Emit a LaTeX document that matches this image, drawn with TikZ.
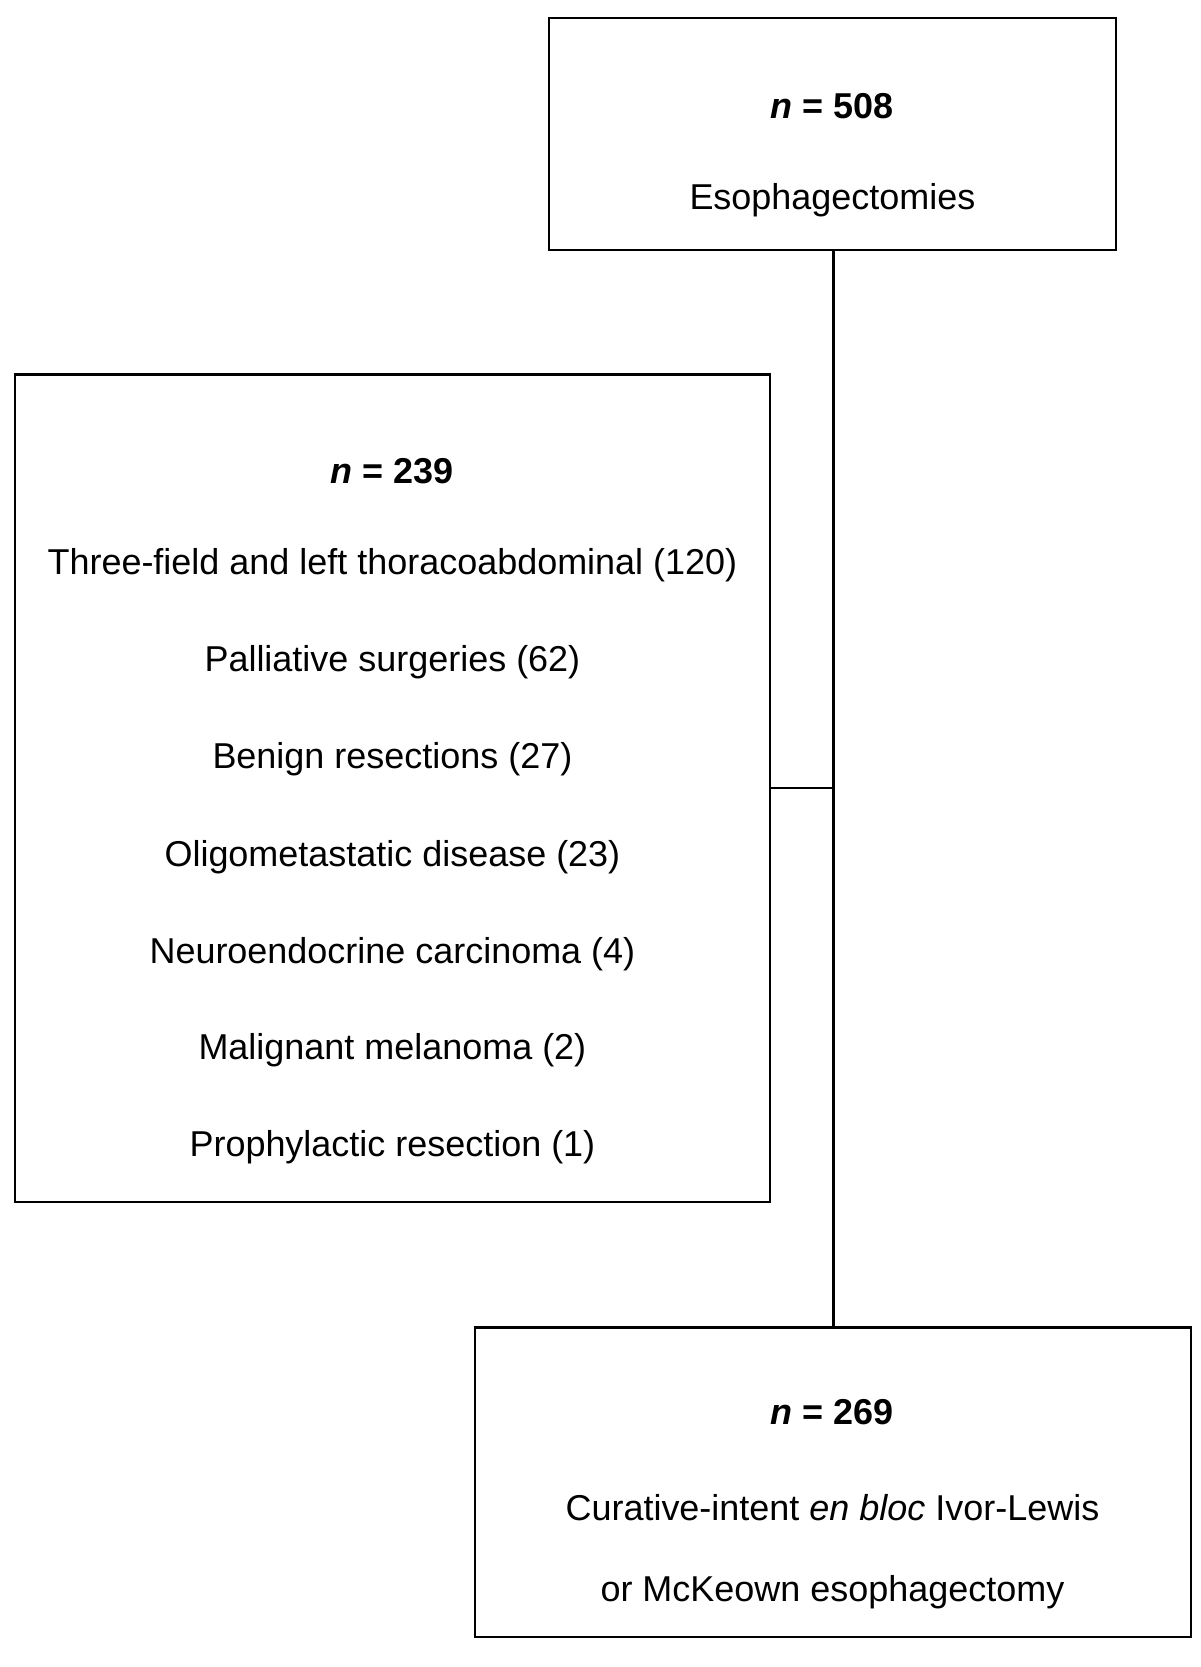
\documentclass[tikz,border=0pt]{standalone}
\usepackage{fontspec}
\setmainfont{Liberation Sans}
\begin{document}
\begin{tikzpicture}[x=0.5pt,y=-0.5pt,
  box/.style={draw,line width=1pt},
  txt/.style={font=\fontsize{17}{20}\selectfont,inner sep=0pt},
  conn/.style={line width=1pt}]
\useasboundingbox (0,0) rectangle (1135,1576);
\draw[box] (519,17) rectangle (1055,236);
\node[txt] (t1) at (787,100) {\textbf{\textit{n} = 508}};
\node[txt] (t2) at (787,189) {Esophagectomies};
\draw[box] (14,354) rectangle (728,1136);
\node[txt] at (371,445) {\textbf{\textit{n} = 239}};
\node[txt] at (371,534) {Three-field and left thoracoabdominal (120)};
\node[txt] at (371,626) {Palliative surgeries (62)};
\node[txt] at (371,718) {Benign resections (27)};
\node[txt] at (371,810) {Oligometastatic disease (23)};
\node[txt] at (371,902) {Neuroendocrine carcinoma (4)};
\node[txt] at (371,993) {Malignant melanoma (2)};
\node[txt] at (371,1085) {Prophylactic resection (1)};
\draw[box] (449,1255) rectangle (1126,1548);
\node[txt] at (787,1335) {\textbf{\textit{n} = 269}};
\node[txt] at (787,1425) {Curative-intent \textit{en bloc} Ivor-Lewis};
\node[txt] at (787,1505) {or McKeown esophagectomy};
\coordinate (a) at (788,236);
\coordinate (b) at (788,1255);
\coordinate (j) at (788,745);
\coordinate (l) at (728,745);
\draw[conn] (a) -- (b);
\draw[conn] (l) -- (j);
\end{tikzpicture}
\end{document}
